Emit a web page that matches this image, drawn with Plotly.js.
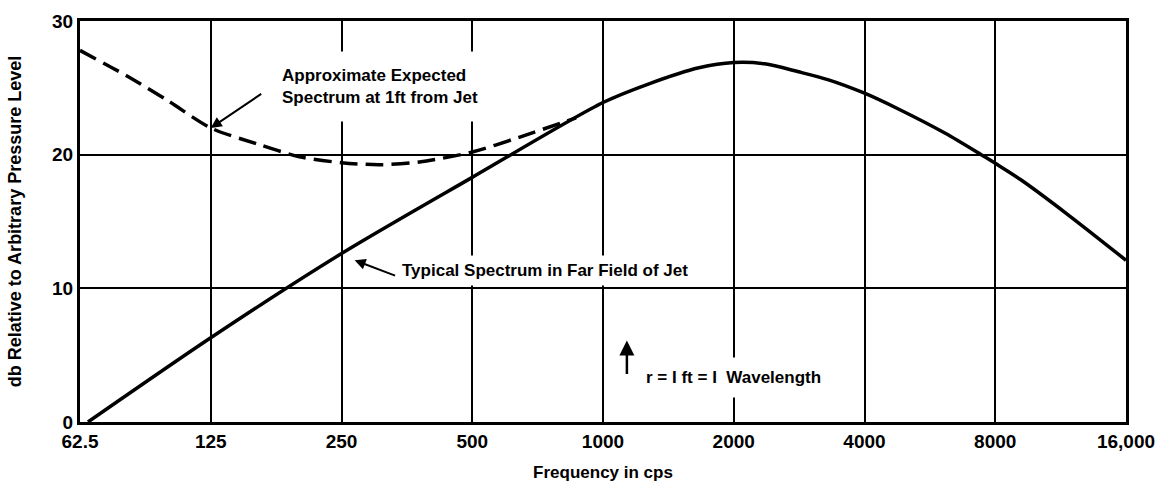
<!DOCTYPE html>
<html>
<head>
<meta charset="utf-8">
<script src="https://cdn.plot.ly/plotly-3.0.1.min.js"></script>
<style>html,body{margin:0;padding:0;background:#fff;}</style>
</head>
<body>
<div id="chart" style="width:1161px;height:482px;"></div>
<script>
// Typical spectrum in far field of jet (solid)
const farFreq = [65.2, 125, 250, 500, 1000, 1276, 1662, 2000, 2357, 2820, 3306, 4000, 4800, 6139, 7425, 8000, 9180, 11770, 16000];
const farDb   = [0, 6.3, 12.6, 18.3, 23.9, 25.3, 26.5, 26.9, 26.8, 26.2, 25.6, 24.6, 23.4, 21.6, 20.0, 19.35, 18.1, 15.5, 12.1];
// Approximate expected spectrum at 1 ft from jet (dashed)
const nearFreq = [62.5, 80, 100, 125, 160, 200, 250, 306, 378, 500, 641, 822, 867];
const nearDb   = [27.8, 25.9, 24.0, 22.0, 20.8, 19.85, 19.4, 19.25, 19.45, 20.2, 21.3, 22.5, 22.75];
// Axis ticks
const xTickVals = [62.5, 125, 250, 500, 1000, 2000, 4000, 8000, 16000];
const xTickText = ['62.5', '125', '250', '500', '1000', '2000', '4000', '8000', '16,000'];
const yTickVals = [0, 10, 20, 30];

const FONT = '"Liberation Sans", Arial, sans-serif';
const L = Math.log10;
const tf = (size) => ({family: FONT, size: size, color: '#000', weight: 'bold'});

const traces = [
  {x: farFreq, y: farDb, mode: 'lines', line: {color: '#000', width: 3.5, shape: 'spline', smoothing: 0.8}, hoverinfo: 'skip'},
  {x: nearFreq, y: nearDb, mode: 'lines', line: {color: '#000', width: 3.5, dash: '18px,8px', shape: 'spline', smoothing: 0.8}, hoverinfo: 'skip'}
];

const layout = {
  width: 1161, height: 482,
  margin: {l: 80, r: 35, t: 21, b: 60},
  paper_bgcolor: '#fff', plot_bgcolor: '#fff',
  showlegend: false,
  font: tf(17),
  xaxis: {
    type: 'log', range: [L(62.5), L(16000)],
    tickvals: xTickVals, ticktext: xTickText, ticks: '',
    showgrid: true, gridcolor: '#000', gridwidth: 2,
    showline: true, linecolor: '#000', linewidth: 3, mirror: true,
    zeroline: false,
    tickfont: tf(19),
    title: {text: 'Frequency in cps', font: tf(17), standoff: 16}
  },
  yaxis: {
    range: [0, 30], tickvals: yTickVals, ticks: '',
    showgrid: true, gridcolor: '#000', gridwidth: 2,
    showline: true, linecolor: '#000', linewidth: 3, mirror: true,
    zeroline: false,
    tickfont: tf(19),
    title: {text: 'db Relative to Arbitrary Pressure Level', font: tf(18), standoff: 26}
  },
  annotations: [
    {x: L(182), y: 25.1, xref: 'x', yref: 'y', xanchor: 'left', yanchor: 'middle', xshift: -15,
     text: 'Approximate Expected<br>Spectrum at 1ft from Jet', align: 'left', showarrow: false,
     bgcolor: '#fff', borderpad: 14, font: tf(17)},
    {x: L(125), y: 22.0, xref: 'x', yref: 'y', showarrow: true, ax: 52, ay: -35,
     arrowhead: 2, arrowsize: 1.1, arrowwidth: 2, arrowcolor: '#000', text: ''},
    {x: L(345), y: 11.3, xref: 'x', yref: 'y', xanchor: 'left', yanchor: 'middle', xshift: -6,
     text: 'Typical Spectrum in Far Field of Jet', showarrow: false,
     bgcolor: '#fff', borderpad: 5, font: tf(17)},
    {x: L(268), y: 12.1, xref: 'x', yref: 'y', showarrow: true, ax: 42, ay: 16,
     arrowhead: 2, arrowsize: 1.1, arrowwidth: 2, arrowcolor: '#000', text: ''},
    {x: L(1255), y: 3.3, xref: 'x', yref: 'y', xanchor: 'left', yanchor: 'middle', xshift: -11,
     text: 'r = I ft = I  Wavelength', showarrow: false,
     bgcolor: '#fff', borderpad: 10, font: tf(17)},
    {x: L(1135), y: 6.1, xref: 'x', yref: 'y', showarrow: true, ax: 0, ay: 35,
     arrowhead: 2, arrowsize: 1.2, arrowwidth: 2.5, arrowcolor: '#000', text: ''}
  ]
};

Plotly.newPlot('chart', traces, layout, {displayModeBar: false, staticPlot: true});
</script>
</body>
</html>
